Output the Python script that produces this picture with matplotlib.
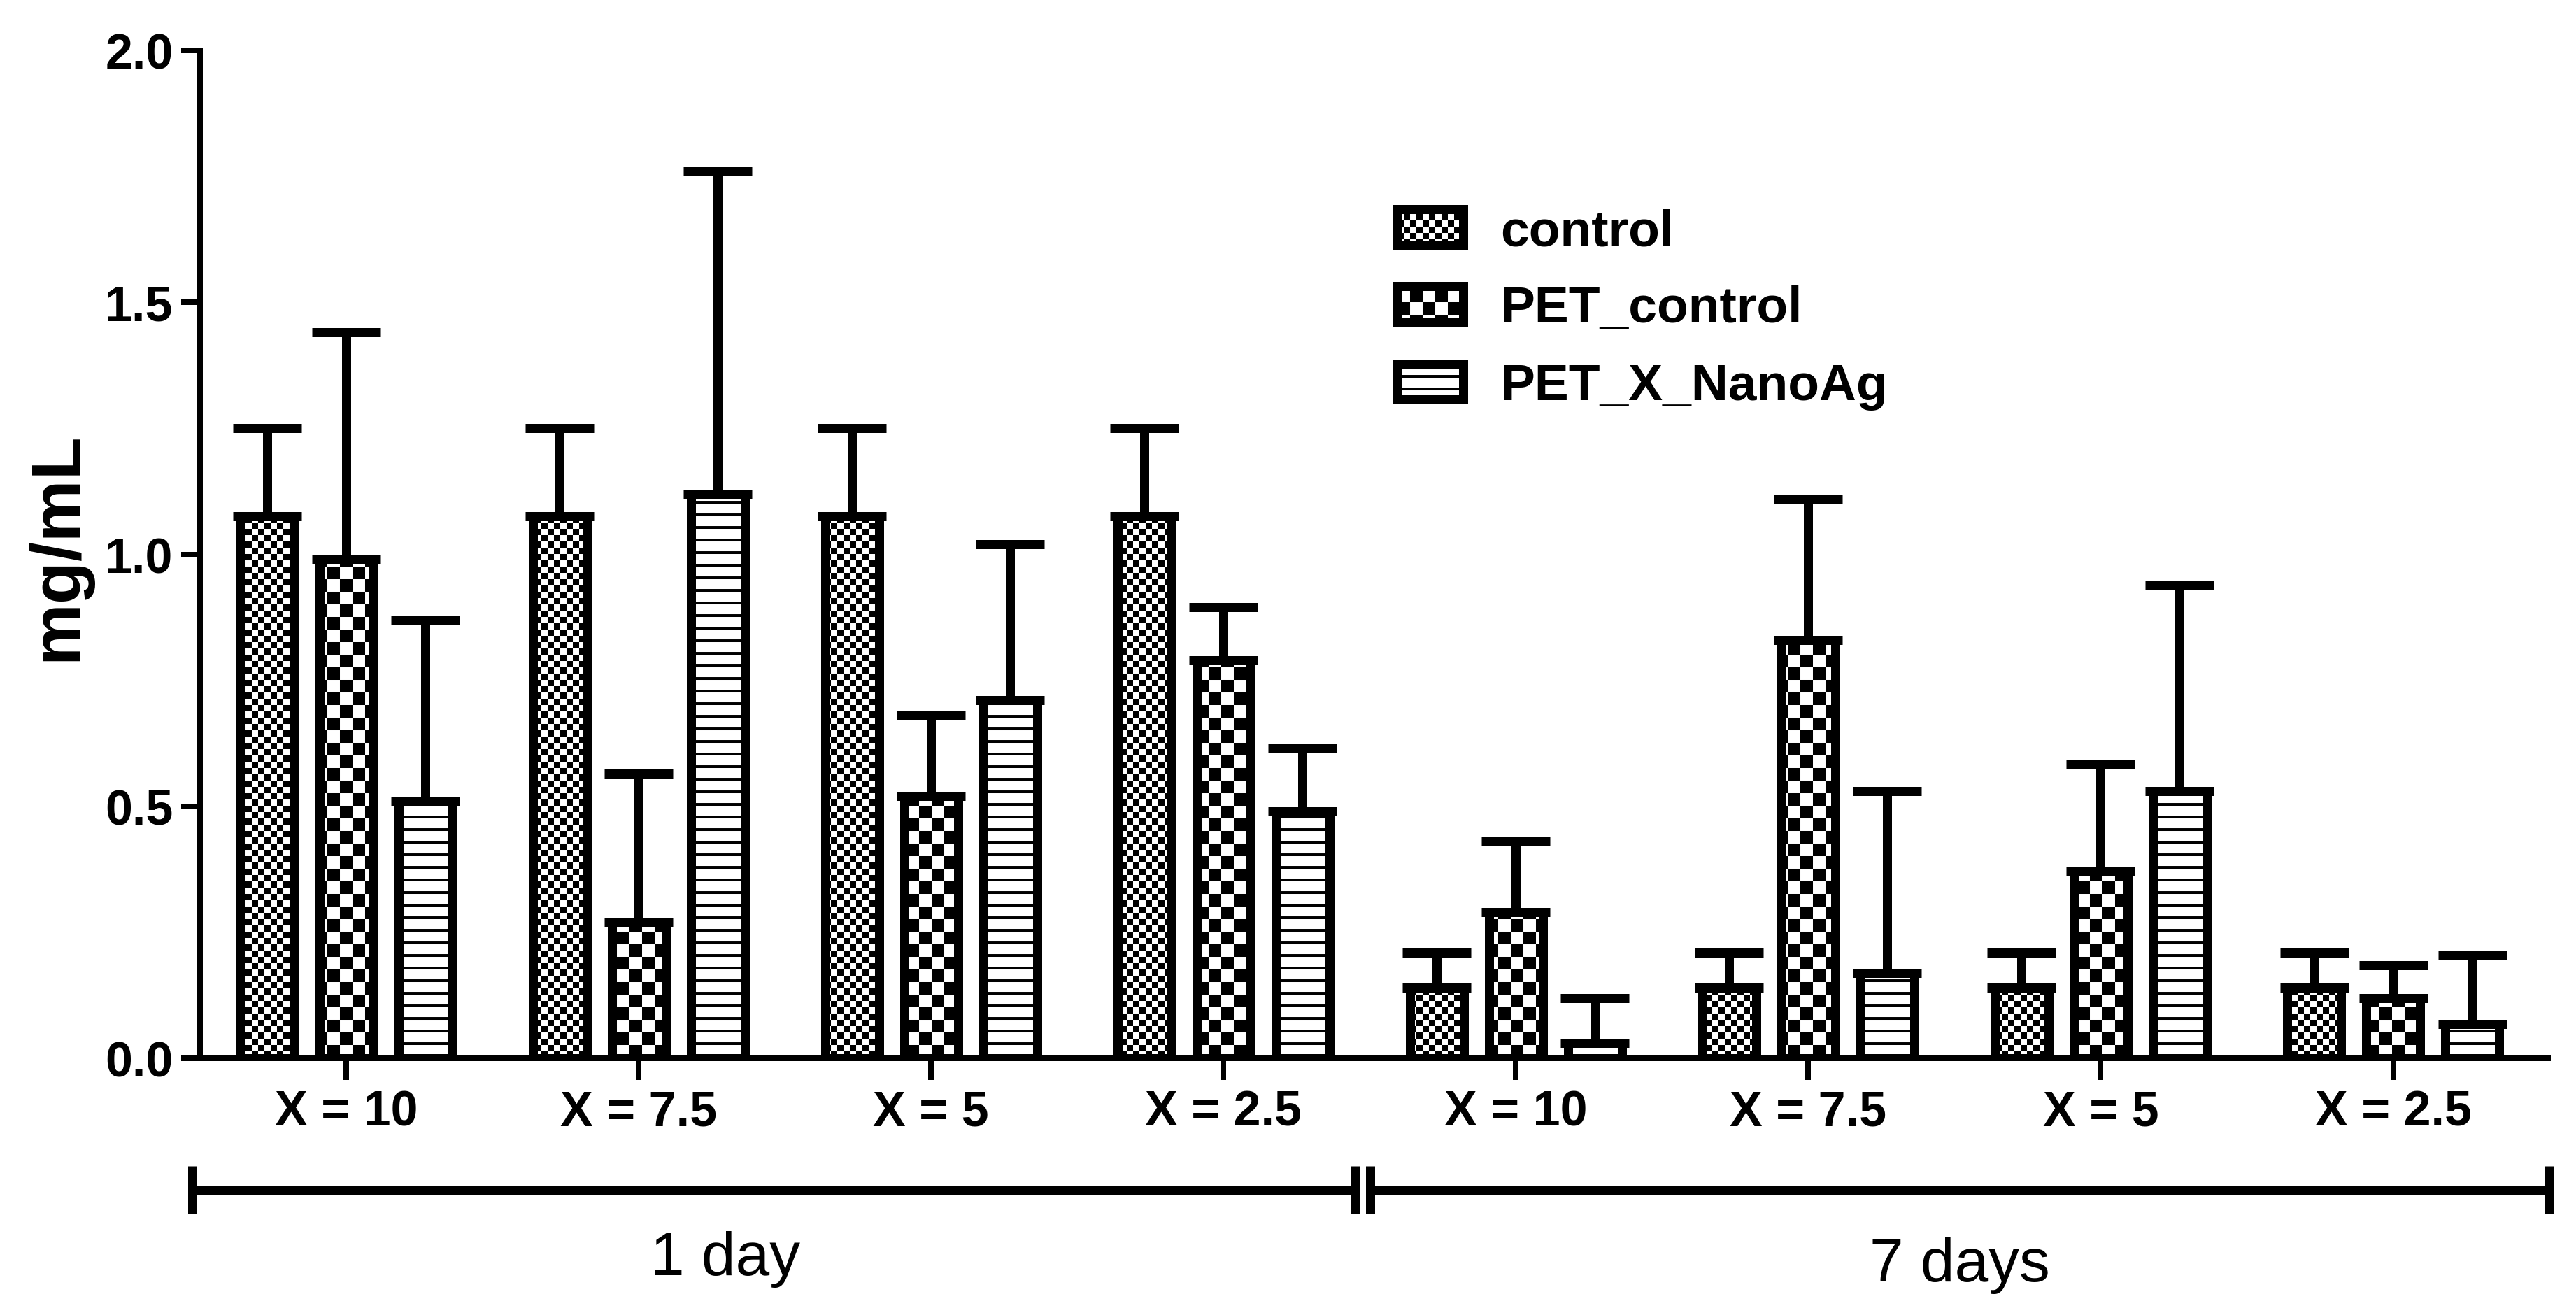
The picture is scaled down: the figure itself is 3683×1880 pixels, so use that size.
import numpy as np
import matplotlib
matplotlib.use('Agg')
import matplotlib.pyplot as plt
import matplotlib.hatch as mhatch
import matplotlib.patches as mpatches
from matplotlib.ticker import FormatStrFormatter
from matplotlib.path import Path

# data (mean and upper error)
groups = ['X = 10', 'X = 7.5', 'X = 5', 'X = 2.5', 'X = 10', 'X = 7.5', 'X = 5', 'X = 2.5']
periods = ['1 day', '7 days']
series = ['control', 'PET_control', 'PET_X_NanoAg']

control_mean = [1.075, 1.075, 1.075, 1.075, 0.14, 0.14, 0.14, 0.14]
control_sd = [0.175, 0.175, 0.175, 0.175, 0.07, 0.07, 0.07, 0.07]
pet_mean = [0.99, 0.27, 0.52, 0.79, 0.29, 0.83, 0.37, 0.12]
pet_sd = [0.45, 0.295, 0.16, 0.105, 0.14, 0.28, 0.215, 0.065]
nano_mean = [0.51, 1.12, 0.71, 0.49, 0.03, 0.17, 0.53, 0.068]
nano_sd = [0.36, 0.64, 0.31, 0.125, 0.09, 0.36, 0.41, 0.137]

DPI = 180


# custom fill patterns: filled squares / bands inside one hatch tile (tile = DPI px)
class Checker(mhatch.HatchPatternBase):
    def __init__(self, hatch, char, n):
        self.n = n if char in hatch else 0
        self.num_vertices = 5 * (self.n * self.n // 2)

    def set_vertices_and_codes(self, vertices, codes):
        k = 0
        s = 1.0 / self.n
        for i in range(self.n):
            for j in range(self.n):
                if (i + j) % 2 == 0:
                    x0, y0 = i * s, j * s
                    vertices[k:k + 5] = [[x0, y0], [x0 + s, y0], [x0 + s, y0 + s], [x0, y0 + s], [x0, y0]]
                    codes[k:k + 5] = [Path.MOVETO, Path.LINETO, Path.LINETO, Path.LINETO, Path.CLOSEPOLY]
                    k += 5


class FineChecker(Checker):
    def __init__(self, hatch, density):
        super().__init__(hatch, 'x', 20)


class CoarseChecker(Checker):
    def __init__(self, hatch, density):
        super().__init__(hatch, 'X', 10)


class Bands(mhatch.HatchPatternBase):
    def __init__(self, hatch, density):
        self.n = 10 if '-' in hatch else 0
        self.num_vertices = 5 * self.n

    def set_vertices_and_codes(self, vertices, codes):
        s = 1.0 / self.n
        h = 0.022
        for i in range(self.n):
            y0 = i * s
            vertices[5 * i:5 * i + 5] = [[0, y0], [1, y0], [1, y0 + h], [0, y0 + h], [0, y0]]
            codes[5 * i:5 * i + 5] = [Path.MOVETO, Path.LINETO, Path.LINETO, Path.LINETO, Path.CLOSEPOLY]


mhatch._hatch_types = [Bands, FineChecker, CoarseChecker]

plt.rcParams['font.family'] = ['Liberation Sans', 'DejaVu Sans']
plt.rcParams['hatch.linewidth'] = 0.01
plt.rcParams['hatch.color'] = 'black'

fig = plt.figure(figsize=(3683 / DPI, 1881 / DPI), dpi=DPI)
ax = fig.add_axes([286 / 3683, 367 / 1881, 3357 / 3683, 1441 / 1881])

centers = np.arange(len(groups)) * 3.7
hatches = ['x', 'X', '-']
means = [control_mean, pet_mean, nano_mean]
sds = [control_sd, pet_sd, nano_sd]

for k in range(3):
    m = np.array(means[k])
    e = np.array(sds[k])
    ax.bar(centers + (k - 1), m, width=0.68, facecolor='white', edgecolor='black',
           linewidth=5.2, hatch=hatches[k], zorder=2,
           yerr=[np.zeros_like(e), e],
           error_kw=dict(ecolor='black', elinewidth=5.2, capsize=19.6, capthick=5.2, zorder=3))

ax.set_xlim(-1.85, 27.86)
ax.set_ylim(0, 2.0)
for s in ['top', 'right']:
    ax.spines[s].set_visible(False)
for s in ['left', 'bottom']:
    ax.spines[s].set_linewidth(3.2)
    ax.spines[s].set_zorder(4)

ax.set_yticks([0, 0.5, 1.0, 1.5, 2.0])
ax.yaxis.set_major_formatter(FormatStrFormatter('%.1f'))
ax.set_xticks(centers)
ax.set_xticklabels(groups)
ax.tick_params(axis='y', direction='out', length=11, width=3.2, pad=4.4, labelsize=28)
ax.tick_params(axis='x', direction='out', length=12.4, width=3.2, pad=5.6, labelsize=28)
for lab in ax.get_xticklabels() + ax.get_yticklabels():
    lab.set_fontweight('bold')

ax.set_ylabel('mg/mL', fontsize=40, fontweight='bold')
ax.yaxis.set_label_coords(-0.0465, 0.5087)

# bracket with break under the two time periods
yb = -0.261
hb = 0.047
segs = [(-1.95, 12.77), (12.96, 27.88)]
for a, b in segs:
    ax.plot([a, b], [yb, yb], color='black', lw=5.2, clip_on=False, solid_capstyle='butt')
    for xe in (a, b):
        ax.plot([xe, xe], [yb - hb, yb + hb], color='black', lw=5.2, clip_on=False,
                solid_capstyle='butt')

ax.text(4.80, -0.429, periods[0], fontsize=35, ha='center', va='baseline')
ax.text(20.42, -0.4417, periods[1], fontsize=35, ha='center', va='baseline')

handles = [mpatches.Patch(facecolor='white', edgecolor='black', linewidth=5.2, hatch=h, label=l)
           for h, l in zip(hatches, series)]
ax.legend(handles=handles, loc='upper left', bbox_to_anchor=(1997.5 / 3683, 1 - 298 / 1881),
          bbox_transform=fig.transFigure, frameon=False, borderpad=0, borderaxespad=0,
          handlelength=1.29, handleheight=0.69, handletextpad=0.72, labelspacing=0.58,
          prop={'size': 29.3, 'weight': 'bold'})

fig.savefig('out.png', dpi=DPI)
